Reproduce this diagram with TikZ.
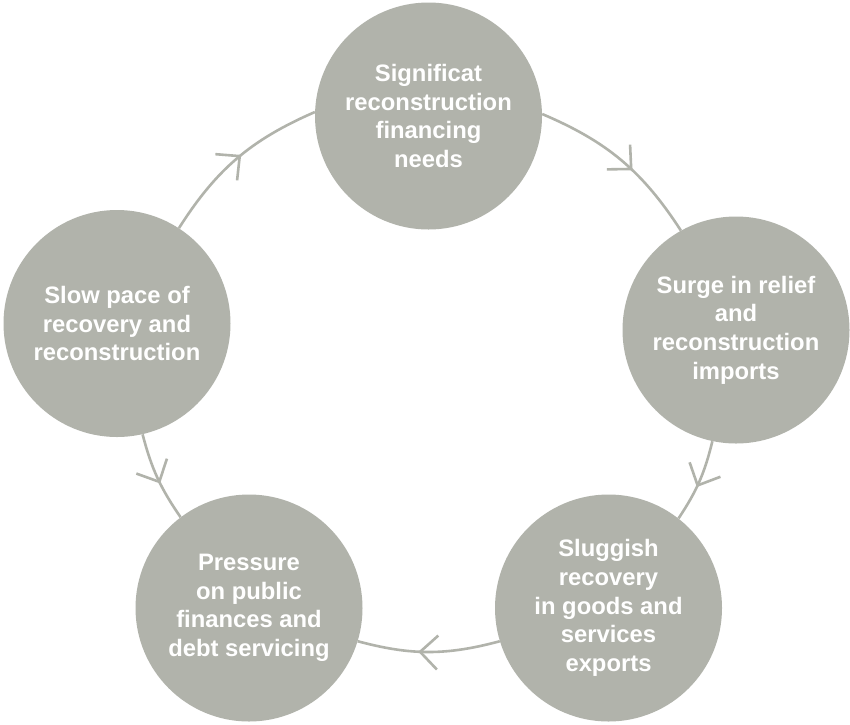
\documentclass[tikz,border=0pt]{standalone}
\usepackage{fontspec}
\setmainfont{Liberation Sans}
\usetikzlibrary{decorations.markings}
\definecolor{bubgray}{RGB}{177,179,171}
\definecolor{ringgray}{RGB}{177,179,171}
\newcommand{\bubfont}{\fontsize{23.8}{28.6}\selectfont\bfseries}
\tikzset{
  bub/.style={circle, fill=bubgray, minimum size=227pt, inner sep=0pt,
    text=white, align=center, font=\bubfont},
  ring/.style={draw=ringgray, line width=2.6pt, postaction={decorate},
    decoration={markings, mark=at position #1 with {
      \draw[ringgray, line width=2.6pt, line join=miter]
        (-17.5pt,17pt) -- (0pt,0pt) -- (-17.5pt,-17pt);}}},
  ring/.default=0.55
}
\begin{document}
\begin{tikzpicture}[x=1pt, y=-1pt]
\fill[white] (0,0) rectangle (850,724);
\useasboundingbox (0,0) rectangle (850,724);
\node[bub] (T) at (428.5,116) {Significat\\reconstruction\\financing\\needs};
\node[bub] (R) at (736,330) {Surge in relief\\and\\reconstruction\\imports};
\node[bub] (BR) at (608.5,608) {Sluggish\\recovery\\in goods and\\services\\exports};
\node[bub] (BL) at (249,608) {Pressure\\on public\\finances and\\debt servicing};
\node[bub] (L) at (117,323.5) {Slow pace of\\recovery and\\reconstruction};
\draw[ring=0.57] (T.1.5) to[bend left=17] (R.119);
\draw[ring=0.55] (R.258) to[bend left=10] (BR.52);
\draw[ring=0.56] (BR.197) to[bend left=15] (BL.343);
\draw[ring=0.55] (L.283.4) to[bend right=10] (BL.127.5);
\draw[ring=0.52] (L.57.3) to[bend left=17] (T.178.5);
\end{tikzpicture}
\end{document}
